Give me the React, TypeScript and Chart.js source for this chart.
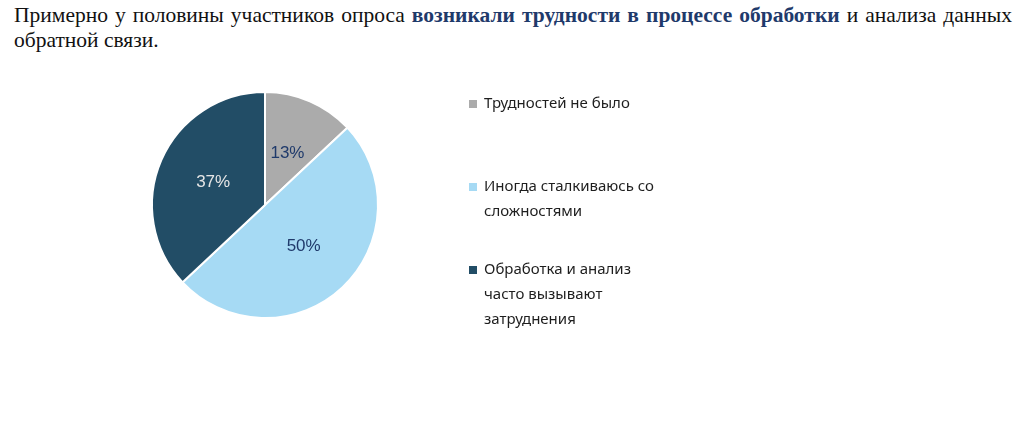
import React, { useEffect, useRef } from "react";
import { Chart, registerables } from "chart.js";

Chart.register(...registerables);

const categories = ["Трудностей не было", "Иногда сталкиваюсь со сложностями", "Обработка и анализ часто вызывают затруднения"];
const legendLines = [["Трудностей не было"], ["Иногда сталкиваюсь со", "сложностями"], ["Обработка и анализ", "часто вызывают", "затруднения"]];
const values = [13, 50, 37];
const sliceColors = ["#ABABAB", "#A6DAF4", "#224D66"];
const labelColors = ["#1F3A6B", "#1F3A6B", "#E6E6E6"];

const labelsPlugin = {
  id: "sliceLabels",
  afterDatasetsDraw(chart: any) {
    const ctx = chart.ctx;
    const meta = chart.getDatasetMeta(0);
    const total = values.reduce((a, b) => a + b, 0);
    ctx.save();
    ctx.font = "17px 'Liberation Sans', Arial, sans-serif";
    ctx.textAlign = "center";
    ctx.textBaseline = "middle";
    meta.data.forEach((arc: any, i: number) => {
      const p = arc.getCenterPoint();
      ctx.fillStyle = labelColors[i];
      ctx.fillText(Math.round((values[i] / total) * 100) + "%", p.x, p.y);
    });
    ctx.restore();
  },
};

const legendPlugin = {
  id: "sideLegend",
  afterDraw(chart: any) {
    const ctx = chart.ctx;
    ctx.save();
    ctx.font = "15px 'Noto Sans', sans-serif";
    ctx.textBaseline = "middle";
    ctx.textAlign = "left";
    const x0 = 469;
    const starts = [44, 127, 210];
    legendLines.forEach((lines, i) => {
      ctx.fillStyle = sliceColors[i];
      ctx.fillRect(x0, starts[i] - 4, 8, 8);
      ctx.fillStyle = "#1E1E1E";
      lines.forEach((t, j) => ctx.fillText(t, x0 + 15, starts[i] + j * 25));
    });
    ctx.restore();
  },
};

export default function App() {
  const ref = useRef<HTMLCanvasElement>(null);
  useEffect(() => {
    const chart = new Chart(ref.current!, {
      type: "pie",
      data: {
        labels: categories,
        datasets: [{ data: values, backgroundColor: sliceColors, borderColor: "#FFFFFF", borderWidth: 2 }],
      },
      options: {
        animation: false,
        responsive: false,
        maintainAspectRatio: false,
        layout: { padding: { left: 151, right: 645, top: 31, bottom: 109 } },
        plugins: { legend: { display: false }, tooltip: { enabled: false } },
      },
      plugins: [labelsPlugin, legendPlugin],
    });
    return () => chart.destroy();
  }, []);
  const titleStyle: React.CSSProperties = {
    position: "absolute",
    left: 14,
    width: 998,
    fontFamily: "'Liberation Serif', 'Times New Roman', serif",
    fontSize: 21.5,
    lineHeight: "25px",
    color: "#111",
    whiteSpace: "nowrap",
  };
  return (
    <div style={{ position: "absolute", left: 0, top: 0, width: 1024, height: 428, background: "#fff", overflow: "hidden" }}>
      <div style={{ ...titleStyle, top: 3, textAlign: "justify", textAlignLast: "justify", whiteSpace: "normal" }}>
        Примерно у половины участников опроса{" "}
        <b style={{ color: "#1F3A6B" }}>возникали трудности в процессе обработки</b> и анализа данных
      </div>
      <div style={{ ...titleStyle, top: 28 }}>обратной связи.</div>
      <canvas ref={ref} width={1024} height={368} style={{ position: "absolute", left: 0, top: 60, width: 1024, height: 368 }} />
    </div>
  );
}
